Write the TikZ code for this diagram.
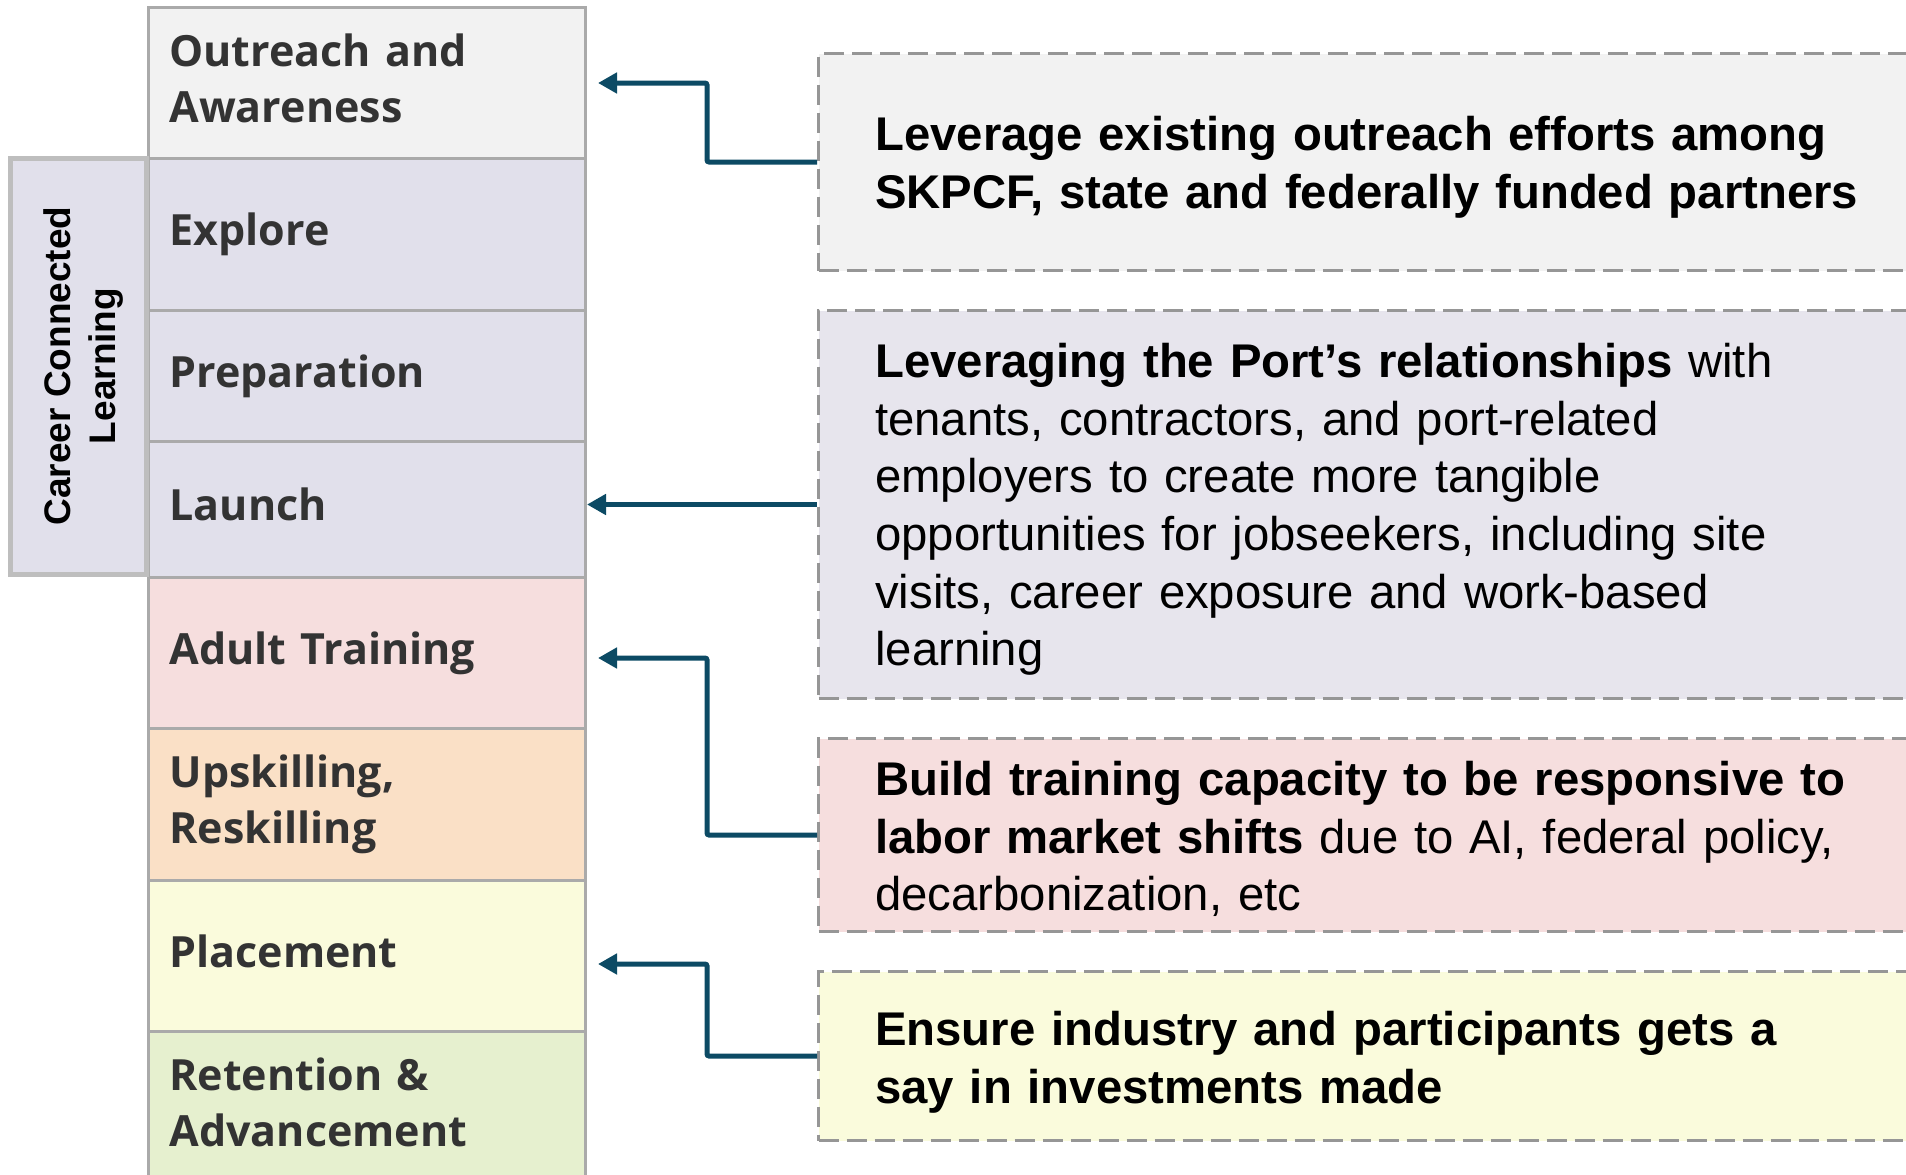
\documentclass[tikz,border=0pt]{standalone}
\usepackage{fontspec}
\setmainfont{Liberation Sans}
\newfontfamily\labfont{Open Sans}
\usetikzlibrary{arrows.meta}
\definecolor{arrowc}{RGB}{12,74,100}
\definecolor{rowline}{RGB}{170,170,170}
\definecolor{outline}{RGB}{190,190,190}
\definecolor{dashgray}{RGB}{150,150,150}
\definecolor{labtxt}{RGB}{51,51,51}
\definecolor{cgray}{RGB}{242,242,242}
\definecolor{clav}{RGB}{225,224,235}
\definecolor{clavr}{RGB}{231,229,237}
\definecolor{cpink}{RGB}{246,222,222}
\definecolor{cpeach}{RGB}{250,224,198}
\definecolor{cyel}{RGB}{250,251,220}
\definecolor{cgreen}{RGB}{230,240,207}
\tikzset{
  rowbox/.style={draw=rowline, line width=3pt, anchor=north west,
    minimum width=437pt, text width=395pt, inner xsep=21pt, inner ysep=0pt,
    align=left, font=\labfont\bfseries\fontsize{43}{56}\selectfont, text=labtxt},
  rbox/.style={draw=dashgray, dash pattern=on 20pt off 8pt, line width=3pt,
    anchor=north west, minimum width=1150pt, inner sep=0pt},
  rtxt/.style={anchor=west, text width=1034pt, inner sep=0pt, align=left,
    font=\fontsize{47.3}{57.6}\selectfont, text=black},
  arr/.style={draw=arrowc, line width=5pt, rounded corners=2pt,
    -{Triangle[length=19pt,width=20pt]}}
}
\begin{document}
\begin{tikzpicture}[x=1pt,y=-1pt]
\useasboundingbox (0,0) rectangle (1906,1175);
\clip (0,0) rectangle (1906,1175);
\fill[white] (0,0) rectangle (1906,1175);

% left column
\node[rowbox, fill=cgray,  minimum height=151pt] (r1) at (147,6)   {\strut Outreach and\\Awareness\strut};
\node[rowbox, fill=clav,   minimum height=152pt] (r2) at (147,157) {\strut Explore\strut};
\node[rowbox, fill=clav,   minimum height=131pt] (r3) at (147,309) {\strut Preparation\strut};
\node[rowbox, fill=clav,   minimum height=136pt] (r4) at (147,440) {\strut Launch\strut};
\node[rowbox, fill=cpink,  minimum height=151pt] (r5) at (147,576) {\strut Adult Training\strut};
\node[rowbox, fill=cpeach, minimum height=152pt] (r6) at (147,727) {\strut Upskilling,\\Reskilling\strut};
\node[rowbox, fill=cyel,   minimum height=151pt] (r7) at (147,879) {\strut Placement\strut};
\node[rowbox, fill=cgreen, minimum height=151pt] (r8) at (147,1030) {\strut Retention \&\\Advancement\strut};

% career connected learning bracket
\node[draw=outline, fill=clav, line width=5pt, minimum width=136pt, minimum height=416pt,
      inner sep=0pt] (ccl) at (78.5,366) {};
\node[rotate=90, align=center, font=\bfseries\fontsize{37}{45}\selectfont] (ccltxt)
  at ([xshift=5pt]ccl.center) {Career Connected\\Learning};

% right boxes
\node[rbox, fill=cgray, minimum height=217pt] (b1) at (817,52) {};
\node[rbox, fill=clavr, minimum height=388pt] (b2) at (817,309) {};
\node[rbox, fill=cpink, minimum height=193pt] (b3) at (817,737) {};
\node[rbox, fill=cyel, minimum height=169pt] (b4) at (817,970) {};

\node[rtxt] (b1t) at ([xshift=58pt,yshift=-5pt]b1.west)
  {\bfseries Leverage existing outreach efforts among\\SKPCF, state and federally funded partners};
\node[rtxt] (b2t) at ([xshift=58pt,yshift=-5pt]b2.west)
  {\textbf{Leveraging the Port’s relationships} with\\tenants, contractors, and port-related\\employers to create more tangible\\opportunities for jobseekers, including site\\visits, career exposure and work-based\\learning};
\node[rtxt] (b3t) at ([xshift=58pt,yshift=-4pt]b3.west)
  {\textbf{Build training capacity to be responsive to}\\\textbf{labor market shifts} due to AI, federal policy,\\decarbonization, etc};
\node[rtxt] (b4t) at ([xshift=58pt,yshift=-6pt]b4.west)
  {\bfseries Ensure industry and participants gets a\\say in investments made};

% connectors
\coordinate (k1) at (707,83);   \coordinate (t1) at (598,83);
\coordinate (k3) at (707,658);  \coordinate (t3) at (598,658);
\coordinate (k4) at (707,964);  \coordinate (t4) at (598,964);
\draw[arr] (b1.west) -| (k1) -- (t1);
\draw[arr] (b2.west) -- (b2.west -| r4.east);
\draw[arr] (b3.west) -| (k3) -- (t3);
\draw[arr] (b4.west) -| (k4) -- (t4);
\end{tikzpicture}
\end{document}
